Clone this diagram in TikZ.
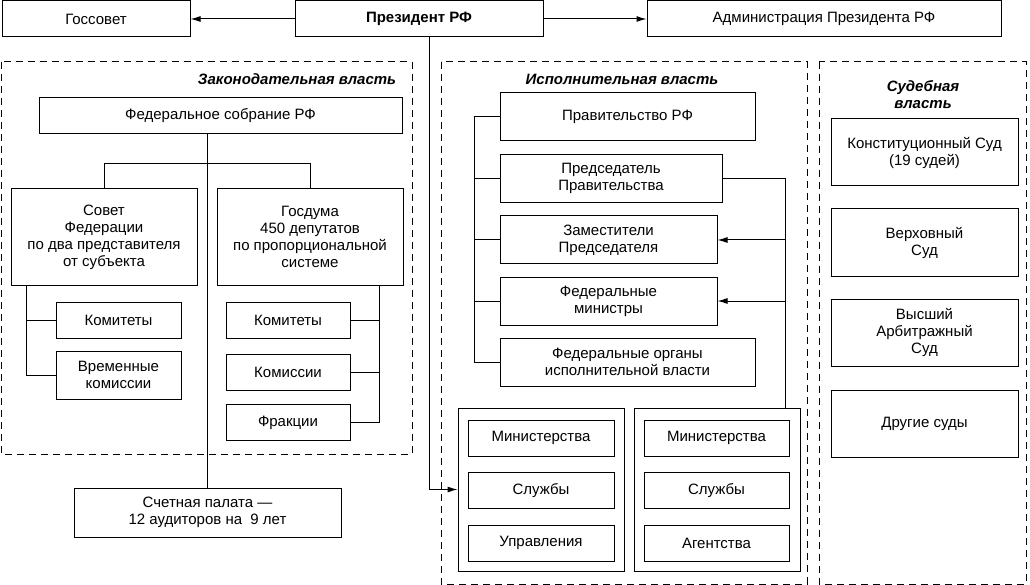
\documentclass[tikz,border=0pt]{standalone}
\usepackage{fontspec}
\setmainfont{Liberation Sans}
\usetikzlibrary{arrows.meta}

\begin{document}
\begin{tikzpicture}[x=1pt,y=-1pt,line width=1pt,
	font=\fontsize{15}{17}\selectfont,
	box/.style={draw,rectangle,align=center,inner sep=0pt,minimum height=36pt},
	frame/.style={draw,dash pattern=on 7pt off 5pt},
	title/.style={font=\fontsize{15}{17}\selectfont\bfseries\itshape,align=center},
	arr/.style={-{Latex[length=10pt,width=6pt]}}]
	\useasboundingbox (0,0) rectangle (1030,585);

	% top row
	\node[box,minimum width=188pt] (gossovet) at (96,19) {Госсовет};
	\node[box,minimum width=248pt,font=\fontsize{15}{17}\selectfont\bfseries] (president) at (419,19) {Президент РФ};
	\node[box,minimum width=354pt] (admin) at (824,19) {Администрация Президента РФ};

	% frames
	\draw[frame] (1,62) rectangle (412,454);
	\draw[frame] (441,62) rectangle (807,584);
	\draw[frame] (819,62) rectangle (1026,584);
	\node[title,anchor=east] (zaktitle) at (400,79) {Законодательная власть};
	\node[title] (isptitle) at (622,79) {Исполнительная власть};
	\node[title] (sudtitle) at (923,95) {Судебная\\власть};

	% legislative
	\node[box,minimum width=363pt] (fedsob) at (220.5,116) {Федеральное собрание РФ};
	\node[box,minimum width=186pt,minimum height=96pt] (sovfed) at (104,237) {Совет\\Федерации\\по два представителя\\от субъекта};
	\node[box,minimum width=186pt,minimum height=96pt] (gosduma) at (310,237) {Госдума\\450 депутатов\\по пропорциональной\\системе};
	\node[box,minimum width=125pt] (komL) at (118.5,320) {Комитеты};
	\node[box,minimum width=125pt,minimum height=48pt] (vremL) at (118.5,375) {Временные\\комиссии};
	\node[box,minimum width=124pt] (komR) at (288,320) {Комитеты};
	\node[box,minimum width=124pt] (komisR) at (288,372) {Комиссии};
	\node[box,minimum width=124pt] (frakR) at (288,422.5) {Фракции};
	\node[box,minimum width=267pt,minimum height=49pt] (schet) at (207.5,512.5) {Счетная палата —\\12 аудиторов на\ \ 9 лет};

	% executive
	\node[box,minimum width=255pt,minimum height=48pt] (prav) at (627.5,117) {Правительство РФ};
	\node[box,minimum width=222pt,minimum height=48pt] (pred) at (611,178.5) {Председатель\\Правительства};
	\node[box,minimum width=217pt,minimum height=48pt] (zam) at (608.5,240) {Заместители\\Председателя};
	\node[box,minimum width=217pt,minimum height=48pt] (fmin) at (608.5,301) {Федеральные\\министры};
	\node[box,minimum width=255pt,minimum height=48pt] (organy) at (627.5,362) {Федеральные органы\\исполнительной власти};
	\node[box,minimum width=166pt,minimum height=163pt] (grpA) at (541,489.5) {};
	\node[box,minimum width=166pt,minimum height=163pt] (grpB) at (717,489.5) {};
	\node[box,minimum width=146pt] (minA) at (541,438) {Министерства};
	\node[box,minimum width=146pt] (sluA) at (541,490.5) {Службы};
	\node[box,minimum width=146pt] (uprA) at (541,543) {Управления};
	\node[box,minimum width=145pt] (minB) at (716.5,438) {Министерства};
	\node[box,minimum width=145pt] (sluB) at (716.5,490.5) {Службы};
	\node[box,minimum width=145pt] (agB) at (716.5,543) {Агентства};

	% judicial
	\node[box,minimum width=187pt,minimum height=67pt] (konst) at (924.5,152.5) {Конституционный Суд\\(19 судей)};
	\node[box,minimum width=187pt,minimum height=67pt] (verh) at (924.5,242.5) {Верховный\\Суд};
	\node[box,minimum width=187pt,minimum height=67pt] (arb) at (924.5,332.5) {Высший\\Арбитражный\\Суд};
	\node[box,minimum width=187pt,minimum height=67pt] (drug) at (924.5,423.5) {Другие суды};

	% connectors
	\draw[arr] (president.west) -- (gossovet.east);
	\draw[arr] (president.east) -- (admin.west);
	\draw[arr] ([xshift=10pt]president.south) |- (grpA.west);

	\draw (schet.north) -- (schet.north |- fedsob.south);
	\draw (sovfed.north) -- ++(0,-25) -| (gosduma.north);
	\draw (komL.west) -| ([xshift=16pt]sovfed.south west);
	\draw (vremL.west) -| ([xshift=16pt]sovfed.south west);
	\draw (komR.east) -| ([xshift=-24pt]gosduma.south east);
	\draw (komisR.east) -| ([xshift=-24pt]gosduma.south east);
	\draw (frakR.east) -| ([xshift=-24pt]gosduma.south east);

	\draw (prav.west) -- ++(-25,0) |- (organy.west);
	\draw (pred.west) -- ++(-25,0);
	\draw (zam.west) -- ++(-25,0);
	\draw (fmin.west) -- ++(-25,0);
	\coordinate (bus) at ([xshift=-15pt]grpB.north east);
	\draw (pred.east) -| (bus);
	\draw[arr] (zam.east -| bus) -- (zam.east);
	\draw[arr] (fmin.east -| bus) -- (fmin.east);
\end{tikzpicture}
\end{document}
